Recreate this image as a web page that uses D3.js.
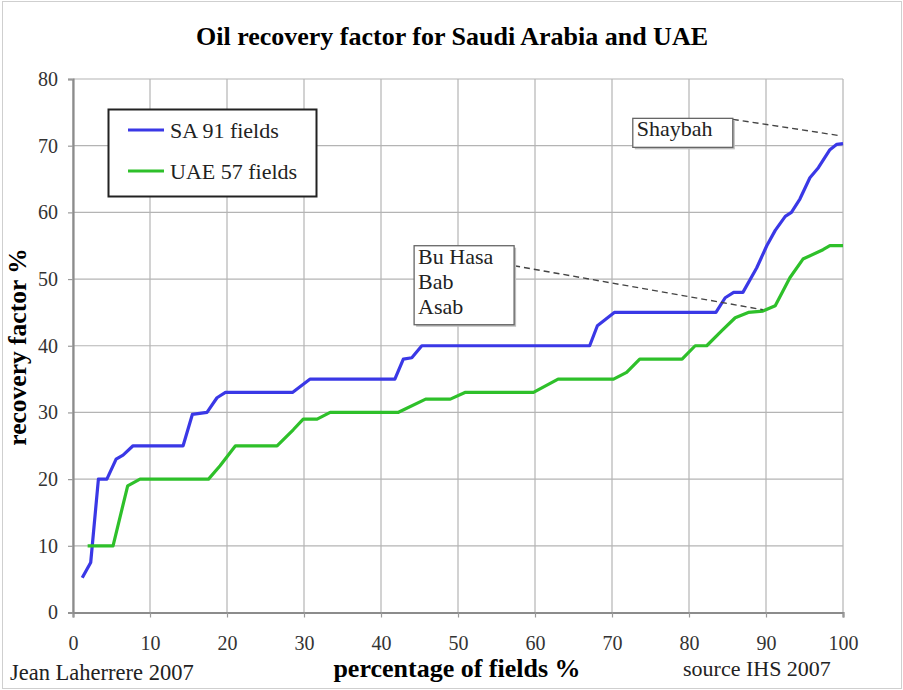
<!DOCTYPE html>
<html>
<head>
<meta charset="utf-8">
<script src="https://cdn.jsdelivr.net/npm/d3@7"></script>
<style>
  body { margin: 0; background: #fff; }
  text { font-family: "Liberation Serif", "Times New Roman", serif; }
</style>
</head>
<body>
<script>
// SA 91 fields: percentage of fields vs recovery factor
const saPct = [1.2, 2.3, 3.3, 4.4, 5.6, 6.5, 7.8, 14.3, 15.5, 17.4, 18.7, 19.8, 28.5, 30.8, 41.8, 42.9, 44.0, 45.3,
    67.1, 68.1, 70.3, 83.5, 84.7, 85.8, 87.0, 88.8, 90.1, 91.2, 92.5, 93.3, 94.4, 95.7, 96.8, 98.3, 99.2, 100];
const saRf = [5.2, 7.5, 20, 20, 23, 23.6, 25, 25, 29.7, 30, 32.2, 33, 33, 35, 35, 38, 38.2, 40,
    40, 43, 45, 45, 47.2, 48, 48, 51.7, 55, 57.3, 59.4, 60, 62, 65.2, 66.7, 69.4, 70.2, 70.3];

// UAE 57 fields
const uaePct = [1.9, 5.2, 7.1, 8.7, 17.6, 19.1, 21.1, 26.5, 28.6, 29.9, 31.7, 33.4, 42.2, 45.8, 49.0, 50.9, 59.8,
    63.0, 70.2, 71.9, 73.6, 79.1, 80.8, 82.3, 84.2, 86.0, 87.7, 89.6, 91.2, 93.1, 94.8, 97.4, 98.3, 100];
const uaeRf = [10, 10, 19, 20, 20, 22, 25, 25, 27.4, 29, 29, 30, 30, 32, 32, 33, 33,
    35, 35, 36, 38, 38, 40, 40, 42.2, 44.2, 45, 45.2, 46, 50.2, 53, 54.4, 55, 55];

const xTicks = [0, 10, 20, 30, 40, 50, 60, 70, 80, 90, 100];
const yTicks = [0, 10, 20, 30, 40, 50, 60, 70, 80];

const seriesNames = ["SA 91 fields", "UAE 57 fields"];
const seriesColors = ["#3a38e6", "#2ec02a"];

// field annotations: label lines, box corner (data coords) and pointed-at point
const notes = [
    { lines: ["Shaybah"], boxX: 72.7, boxY: 74.1, toX: 99.6, toY: 71.5, fromDy: 1 },
    { lines: ["Bu Hasa", "Bab", "Asab"], boxX: 44.3, boxY: 55.0, toX: 89.6, toY: 45.4, fromDy: 20 }
];

const width = 903, height = 690;
const margin = { top: 79, right: 60, bottom: 77.5, left: 73 };

const svg = d3.select("body").append("svg")
    .attr("width", width)
    .attr("height", height);

// outer frame
svg.append("rect")
    .attr("x", 2.5).attr("y", 1.5)
    .attr("width", width - 4).attr("height", height - 3)
    .attr("fill", "none")
    .attr("stroke", "#cfcfcf");

const x = d3.scaleLinear().domain([0, 100]).range([margin.left, width - margin.right]);
const y = d3.scaleLinear().domain([0, 80]).range([height - margin.bottom, margin.top]);

// grid
svg.append("g").selectAll("line")
    .data(xTicks)
    .enter().append("line")
    .attr("x1", d => x(d)).attr("x2", d => x(d))
    .attr("y1", y(0)).attr("y2", y(80))
    .attr("stroke", "#b4b4b4").attr("stroke-width", 1.2);

svg.append("g").selectAll("line")
    .data(yTicks)
    .enter().append("line")
    .attr("x1", x(0)).attr("x2", x(100))
    .attr("y1", d => y(d)).attr("y2", d => y(d))
    .attr("stroke", "#b4b4b4").attr("stroke-width", 1.2);

// axes
const xAxis = svg.append("g")
    .attr("transform", `translate(0,${y(0)})`)
    .call(d3.axisBottom(x).tickValues(xTicks).tickSize(5).tickPadding(18));
const yAxis = svg.append("g")
    .attr("transform", `translate(${x(0)},0)`)
    .call(d3.axisLeft(y).tickValues(yTicks).tickSize(5).tickPadding(10));

[xAxis, yAxis].forEach(g => {
    g.select(".domain").attr("stroke", "#8c8c8c").attr("stroke-width", 2.2);
    g.selectAll(".tick line").attr("stroke", "#9a9a9a").attr("stroke-width", 1.2);
    g.selectAll(".tick text")
        .attr("fill", "#333")
        .style("font-size", "20px")
        .style("font-family", "'Liberation Serif', serif");
});

// lines
const line = d3.line().x(d => x(d[0])).y(d => y(d[1]));
const series = [d3.zip(saPct, saRf), d3.zip(uaePct, uaeRf)];

svg.selectAll(".series")
    .data(series)
    .enter().append("path")
    .attr("class", "series")
    .attr("d", line)
    .attr("fill", "none")
    .attr("stroke", (d, i) => seriesColors[i])
    .attr("stroke-width", 3.2)
    .attr("stroke-linejoin", "round");

// annotations
notes.forEach(n => {
    const bx = x(n.boxX), by = y(n.boxY);
    const bw = 100, bh = n.lines.length * 25 + 4;
    svg.append("line")
        .attr("x1", bx + bw).attr("y1", by + n.fromDy)
        .attr("x2", x(n.toX)).attr("y2", y(n.toY))
        .attr("stroke", "#444").attr("stroke-width", 1.4)
        .attr("stroke-dasharray", "6,4");
    svg.append("rect")
        .attr("x", bx + 2).attr("y", by + 2)
        .attr("width", bw).attr("height", bh)
        .attr("fill", "#bdbdbd");
    svg.append("rect")
        .attr("x", bx).attr("y", by)
        .attr("width", bw).attr("height", bh)
        .attr("fill", "#fff")
        .attr("stroke", "#666").attr("stroke-width", 1.3);
    n.lines.forEach((t, i) => {
        svg.append("text")
            .attr("x", bx + 4)
            .attr("y", by + 18 + i * 25)
            .style("font-size", "22px")
            .attr("fill", "#222")
            .text(t);
    });
});

// legend
const legend = svg.append("g");
legend.append("rect")
    .attr("x", 108.5).attr("y", 109.5)
    .attr("width", 208).attr("height", 87)
    .attr("fill", "#fff")
    .attr("stroke", "#222").attr("stroke-width", 2);
seriesNames.forEach((name, i) => {
    const ly = 130 + i * 41;
    legend.append("line")
        .attr("x1", 128).attr("x2", 164)
        .attr("y1", ly).attr("y2", ly)
        .attr("stroke", seriesColors[i]).attr("stroke-width", 3.2);
    legend.append("text")
        .attr("x", 170).attr("y", ly + 8)
        .style("font-size", "22px")
        .attr("fill", "#222")
        .text(name);
});

// titles
svg.append("text")
    .attr("x", 452).attr("y", 45)
    .attr("text-anchor", "middle")
    .style("font-size", "26px").style("font-weight", "bold")
    .text("Oil recovery factor for Saudi Arabia and UAE");

svg.append("text")
    .attr("x", 457).attr("y", 677)
    .attr("text-anchor", "middle")
    .style("font-size", "26px").style("font-weight", "bold")
    .text("percentage of fields %");

svg.append("text")
    .attr("transform", "translate(26,347) rotate(-90)")
    .attr("text-anchor", "middle")
    .style("font-size", "25.5px").style("font-weight", "bold")
    .text("recovery factor %");

svg.append("text")
    .attr("x", 10).attr("y", 680)
    .style("font-size", "22.5px")
    .attr("fill", "#222")
    .text("Jean Laherrere 2007");

svg.append("text")
    .attr("x", 683).attr("y", 676)
    .style("font-size", "22px")
    .attr("fill", "#222")
    .text("source IHS 2007");
</script>
</body>
</html>
